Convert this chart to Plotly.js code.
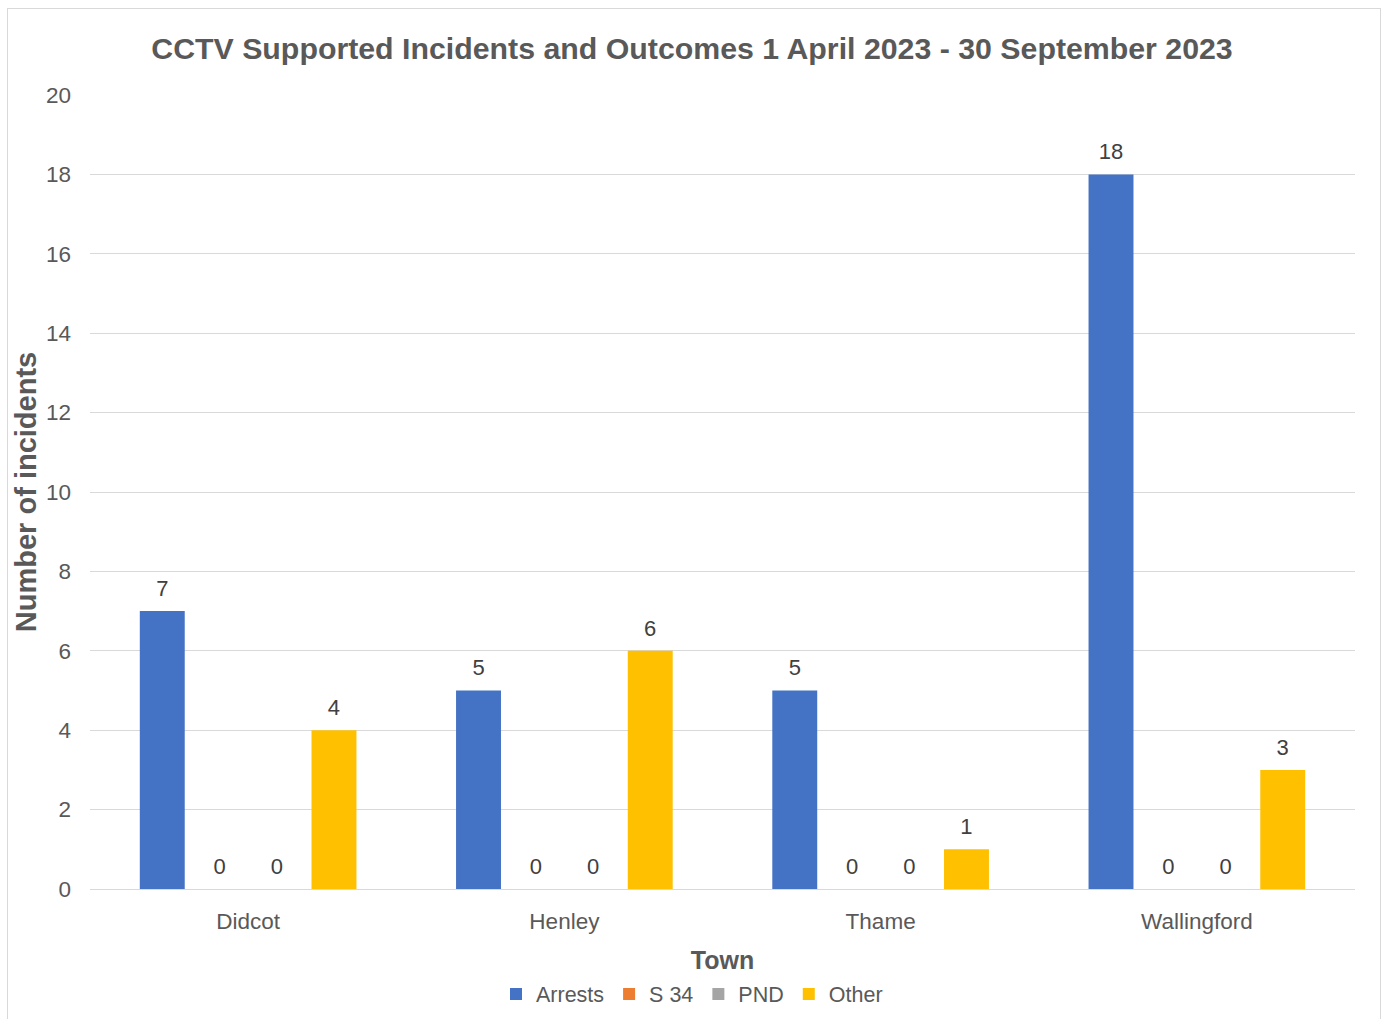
<!DOCTYPE html>
<html>
<head>
<meta charset="utf-8">
<script src="https://cdn.plot.ly/plotly-3.0.1.min.js"></script>
<style>
  html, body { margin: 0; padding: 0; background: #ffffff; }
  #wrap { position: relative; width: 1384px; height: 1019px; overflow: hidden; }
  #chart { position: absolute; left: 0; top: 0; width: 1384px; height: 1019px; }
  #frame { position: absolute; left: 7px; top: 8px; width: 1372px; height: 1030px; border: 1px solid #D9D9D9; pointer-events: none; }
</style>
</head>
<body>
<div id="wrap">
  <div id="chart"></div>
  <div id="frame"></div>
</div>
<script>
const towns = ["Didcot", "Henley", "Thame", "Wallingford"];
const arrests = [7, 5, 5, 18];
const s34 = [0, 0, 0, 0];
const pnd = [0, 0, 0, 0];
const other = [4, 6, 1, 3];
const seriesNames = ["Arrests", "S 34", "PND", "Other"];
const seriesColors = ["#4472C4", "#ED7D31", "#A5A5A5", "#FFC000"];
const seriesValues = [arrests, s34, pnd, other];

const FONT = "Liberation Sans, Arial, sans-serif";

const barTraces = seriesValues.map((vals, i) => ({
  type: "bar",
  name: seriesNames[i],
  x: towns,
  y: vals,
  offsetgroup: String(i),
  marker: { color: seriesColors[i] },
  hoverinfo: "x+y+name"
}));

const labelTraces = seriesValues.map((vals, i) => ({
  type: "scatter",
  mode: "markers+text",
  name: seriesNames[i] + " labels",
  showlegend: false,
  x: towns,
  y: vals,
  offsetgroup: String(i),
  marker: { size: 14, opacity: 0, color: seriesColors[i] },
  text: vals.map(String),
  textposition: "top center",
  textfont: { family: FONT, size: 22, color: "#404040" },
  cliponaxis: false,
  hoverinfo: "skip"
}));

const layout = {
  width: 1384,
  height: 1019,
  paper_bgcolor: "#ffffff",
  plot_bgcolor: "#ffffff",
  margin: { l: 90, r: 29, t: 95, b: 130 },
  barmode: "group",
  bargap: 0.276,
  bargroupgap: 0.215,
  scattermode: "group",
  scattergap: 0.276,
  title: {
    text: "<b>CCTV Supported Incidents and Outcomes 1 April 2023 - 30 September 2023</b>",
    font: { family: FONT, size: 30.3, color: "#595959" },
    x: 0.5, xanchor: "center", xref: "container",
    y: 1 - 48 / 1019, yanchor: "middle", yref: "container"
  },
  xaxis: {
    type: "category",
    showgrid: false,
    showline: true,
    linecolor: "#D9D9D9",
    linewidth: 1,
    ticks: "",
    ticklabelstandoff: 12,
    tickfont: { family: FONT, size: 22.5, color: "#595959" },
    title: {
      text: "<b>Town</b>",
      font: { family: FONT, size: 25, color: "#595959" },
      standoff: 20
    }
  },
  yaxis: {
    range: [0, 20],
    dtick: 2,
    showgrid: true,
    gridcolor: "#D9D9D9",
    gridwidth: 1,
    zeroline: true,
    zerolinecolor: "#D9D9D9",
    zerolinewidth: 1,
    showline: false,
    ticks: "",
    ticklen: 0,
    ticklabelstandoff: 18,
    tickfont: { family: FONT, size: 22.5, color: "#595959" },
    title: {
      text: "<b>Number of incidents</b>",
      font: { family: FONT, size: 29, color: "#595959" },
      standoff: 0
    }
  },
  showlegend: true,
  legend: {
    orientation: "h",
    x: 0.5, xanchor: "center", xref: "container",
    y: 1 - 994 / 1019, yanchor: "middle", yref: "container",
    font: { family: FONT, size: 21.5, color: "#595959" },
    itemwidth: 30,
    traceorder: "normal"
  }
};

Plotly.newPlot("chart", barTraces.concat(labelTraces), layout, { displayModeBar: false, responsive: false });
</script>
</body>
</html>
